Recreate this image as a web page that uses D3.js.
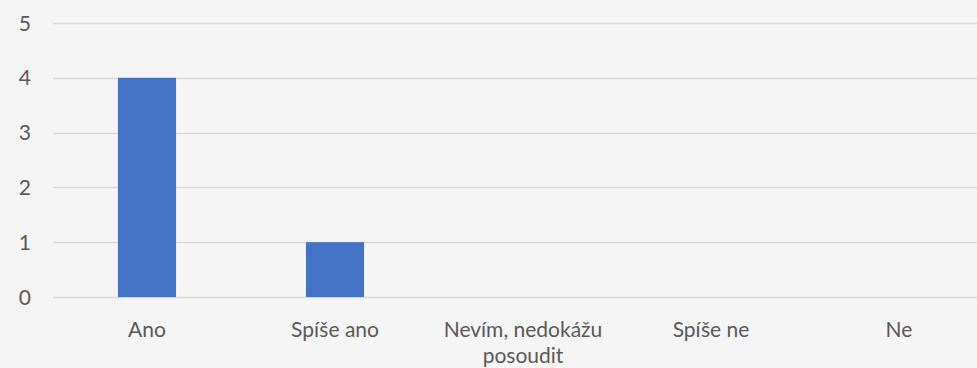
<!DOCTYPE html>
<html>
<head>
<meta charset="utf-8">
<script src="https://cdn.jsdelivr.net/npm/d3@7"></script>
<style>
  html, body { margin: 0; padding: 0; background: #f5f5f5; }
  svg { display: block; }
  text { font-family: Lato, "Open Sans", sans-serif; fill: #595959; }
</style>
</head>
<body>
<script>
const categories = ["Ano", "Spíše ano", "Nevím, nedokážu posoudit", "Spíše ne", "Ne"];
const categoryLines = [["Ano"], ["Spíše ano"], ["Nevím, nedokážu", "posoudit"], ["Spíše ne"], ["Ne"]];
const values = [4, 1, 0, 0, 0];
const yTicks = [0, 1, 2, 3, 4, 5];

const width = 977, height = 368;
const svg = d3.select("body").append("svg")
  .attr("width", width).attr("height", height);

const x = d3.scaleBand().domain(categories).range([53, 993]).paddingInner(0.691).paddingOuter(0.3455);
const y = d3.scaleLinear().domain([0, 5]).range([297, 23]);

// horizontal gridlines
svg.append("g").selectAll("line").data(yTicks).join("line")
  .attr("x1", 53).attr("x2", width)
  .attr("y1", d => Math.round(y(d)) + 0.5).attr("y2", d => Math.round(y(d)) + 0.5)
  .attr("stroke", "#d9d9d9").attr("stroke-width", 1.5);

// y tick labels
svg.append("g").selectAll("text").data(yTicks).join("text")
  .attr("x", 31).attr("y", d => y(d) + 7.5)
  .attr("text-anchor", "end")
  .attr("font-size", 21).text(d => d);

// bars
svg.append("g").selectAll("rect").data(values).join("rect")
  .attr("x", (d, i) => x(categories[i]))
  .attr("width", x.bandwidth())
  .attr("y", d => y(d))
  .attr("height", d => y(0) - y(d))
  .attr("fill", "#4472c4");

// category labels
const labels = svg.append("g").selectAll("text").data(categories).join("text")
  .attr("x", d => x(d) + x.bandwidth() / 2)
  .attr("y", 337)
  .attr("text-anchor", "middle").attr("font-size", 21);
labels.selectAll("tspan").data((d, i) => categoryLines[i]).join("tspan")
  .attr("x", function () { return d3.select(this.parentNode).attr("x"); })
  .attr("dy", (d, i) => i === 0 ? 0 : 26)
  .text(d => d);
</script>
</body>
</html>
